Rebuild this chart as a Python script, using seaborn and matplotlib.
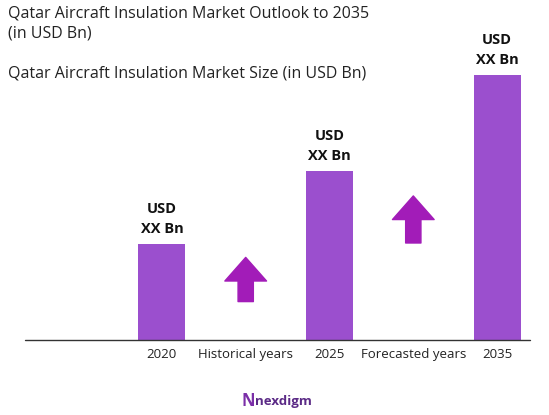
import matplotlib
matplotlib.use("Agg")
import matplotlib.pyplot as plt
import seaborn as sns
import pandas as pd
from matplotlib.lines import Line2D

categories = ["2020", "Historical years", "2025", "Forecasted years", "2035"]
values = [1.0, 0, 1.76, 0, 2.76]
bar_labels = ["USD\nXX Bn", "", "USD\nXX Bn", "", "USD\nXX Bn"]
arrow_spans = {"Historical years": (0.40, 0.86), "Forecasted years": (1.01, 1.50)}

sns.set_theme(style="white")
plt.rcParams['font.family'] = ['Open Sans', 'DejaVu Sans']

W, H = 549, 415
fig = plt.figure(figsize=(W / 100, H / 100), dpi=100)
ax = fig.add_axes([120 / W, 75 / H, 419 / W, 340 / H])

df = pd.DataFrame({"cat": categories, "val": values})
sns.barplot(data=df, x="cat", y="val", order=categories, color="#9B4FCE",
            saturation=1, width=0.56, linewidth=0, ax=ax)
ax.set_xlim(-0.5, 4.5)
ax.set_ylim(0, 3.54)
ax.set_xlabel("")
ax.set_ylabel("")
ax.set_yticks([])
ax.tick_params(axis="x", length=0, labelsize=9.5, pad=6, colors="#222222")
for s in ax.spines.values():
    s.set_visible(False)

for i, (v, lab) in enumerate(zip(values, bar_labels)):
    if lab:
        ax.text(i, v + 0.08, lab, ha="center", va="bottom", fontsize=10.5,
                fontweight="bold", linespacing=1.6, color="#111111")

for cat, (y0, y1) in arrow_spans.items():
    x = categories.index(cat)
    ax.annotate("", xy=(x, y1), xytext=(x, y0),
                arrowprops=dict(width=11, headwidth=30, headlength=17,
                                color="#A21CB8", shrink=0))

fig.add_artist(Line2D([25 / W, 530 / W], [75 / H, 75 / H], color="#333333", lw=1))

fig.text(8 / W, 1 - 5 / H, "Qatar Aircraft Insulation Market Outlook to 2035\n(in USD Bn)",
         ha="left", va="top", fontsize=11.5, color="#222222", linespacing=1.4)
fig.text(8 / W, 1 - 65 / H, "Qatar Aircraft Insulation Market Size (in USD Bn)",
         ha="left", va="top", fontsize=11.5, color="#222222")

fig.text(248 / W, 1 - 401 / H, "N", ha="center", va="center", fontsize=12,
         color="#7B2FA8", fontweight="bold")
fig.text(283 / W, 1 - 401 / H, "nexdigm", ha="center", va="center", fontsize=9.5,
         color="#5B2A86", fontweight="bold")

fig.savefig("out.png", dpi=100)
